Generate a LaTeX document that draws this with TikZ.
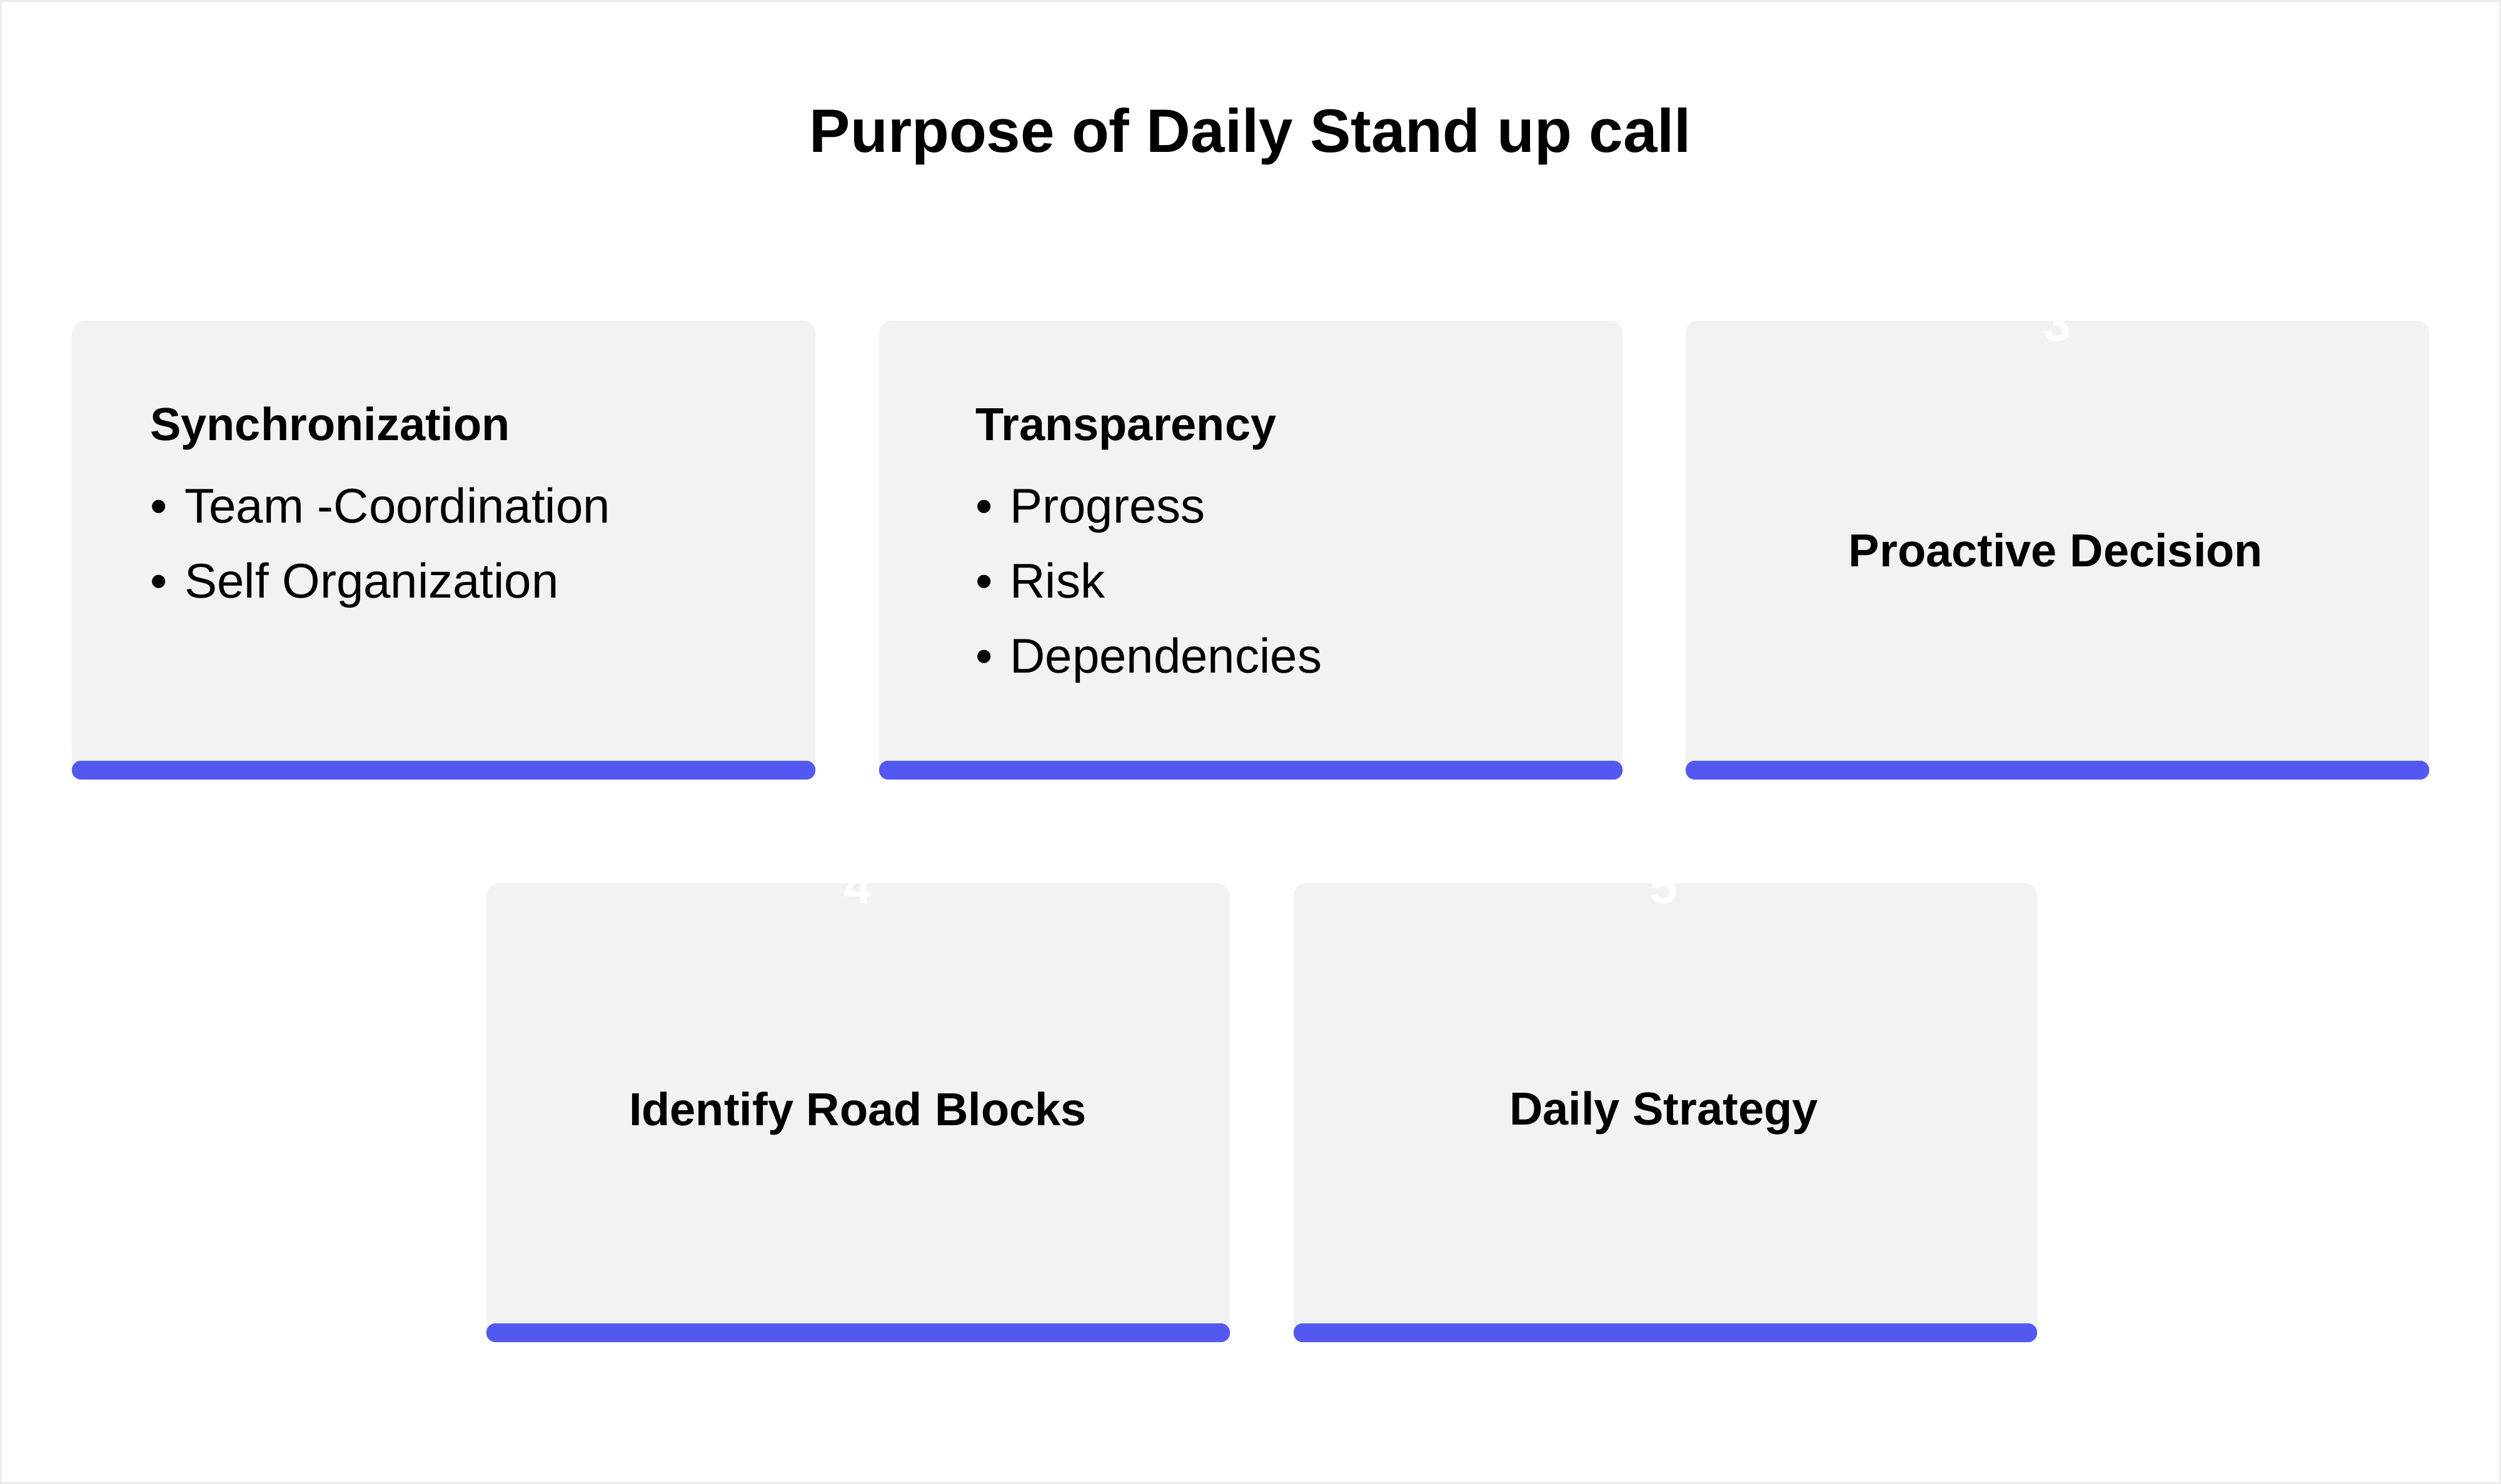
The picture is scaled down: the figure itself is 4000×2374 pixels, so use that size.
\documentclass[tikz,border=0pt]{standalone}
\usepackage{fontspec}
\setmainfont{Liberation Sans}
\definecolor{cardbg}{HTML}{F2F2F2}
\definecolor{barc}{HTML}{5359F0}
\begin{document}
\begin{tikzpicture}[x=1pt,y=-1pt,
  card/.style={fill=cardbg,rounded corners=20pt},
  bar/.style={fill=barc,rounded corners=14pt},
  head/.style={font=\fontsize{74}{80}\selectfont\bfseries,anchor=base west,inner sep=0},
  item/.style={font=\fontsize{78}{80}\selectfont,anchor=base west,inner sep=0},
  mid/.style={font=\fontsize{74}{80}\selectfont\bfseries,inner sep=0},
  num/.style={font=\fontsize{80}{80}\selectfont\bfseries,text=white,inner sep=0}]
\useasboundingbox (0,0) rectangle (4000,2374);
\draw[black!8,line width=3pt] (1.5,1.5) rectangle (3998.5,2372.5);
\node[font=\fontsize{98}{110}\selectfont\bfseries,anchor=base] (title) at (2000,243) {Purpose of Daily Stand up call};
% cards
\foreach \nm/\x/\y in {c1/115/513,c2/1406/513,c3/2696/513,c4/778/1413,c5/2069/1413}{
  \fill[card] (\x,\y) rectangle ++(1189,734);
  \fill[bar] (\x,\y+704) rectangle ++(1189,30);
  \coordinate (\nm) at (\x,\y);
}
\node[num] (n3) at (3291,518) {3};
\node[num] (n4) at (1372,1418) {4};
\node[num] (n5) at (2661,1418) {5};
\node[head] (h1) at (240,704) {Synchronization};
\node[item] (a1) at (240,836) {\textbullet\hspace{28pt}Team -Coordination};
\node[item] (a2) at (240,956) {\textbullet\hspace{28pt}Self Organization};
\node[head] (h2) at (1560,704) {Transparency};
\node[item] (b1) at (1560,836) {\textbullet\hspace{28pt}Progress};
\node[item] (b2) at (1560,956) {\textbullet\hspace{28pt}Risk};
\node[item] (b3) at (1560,1076) {\textbullet\hspace{28pt}Dependencies};
\node[mid] (m3) at (3288,880) {Proactive Decision};
\node[mid] (m4) at (1372,1781) {Identify Road Blocks};
\node[mid] (m5) at (2661,1781) {Daily Strategy};
\end{tikzpicture}
\end{document}
